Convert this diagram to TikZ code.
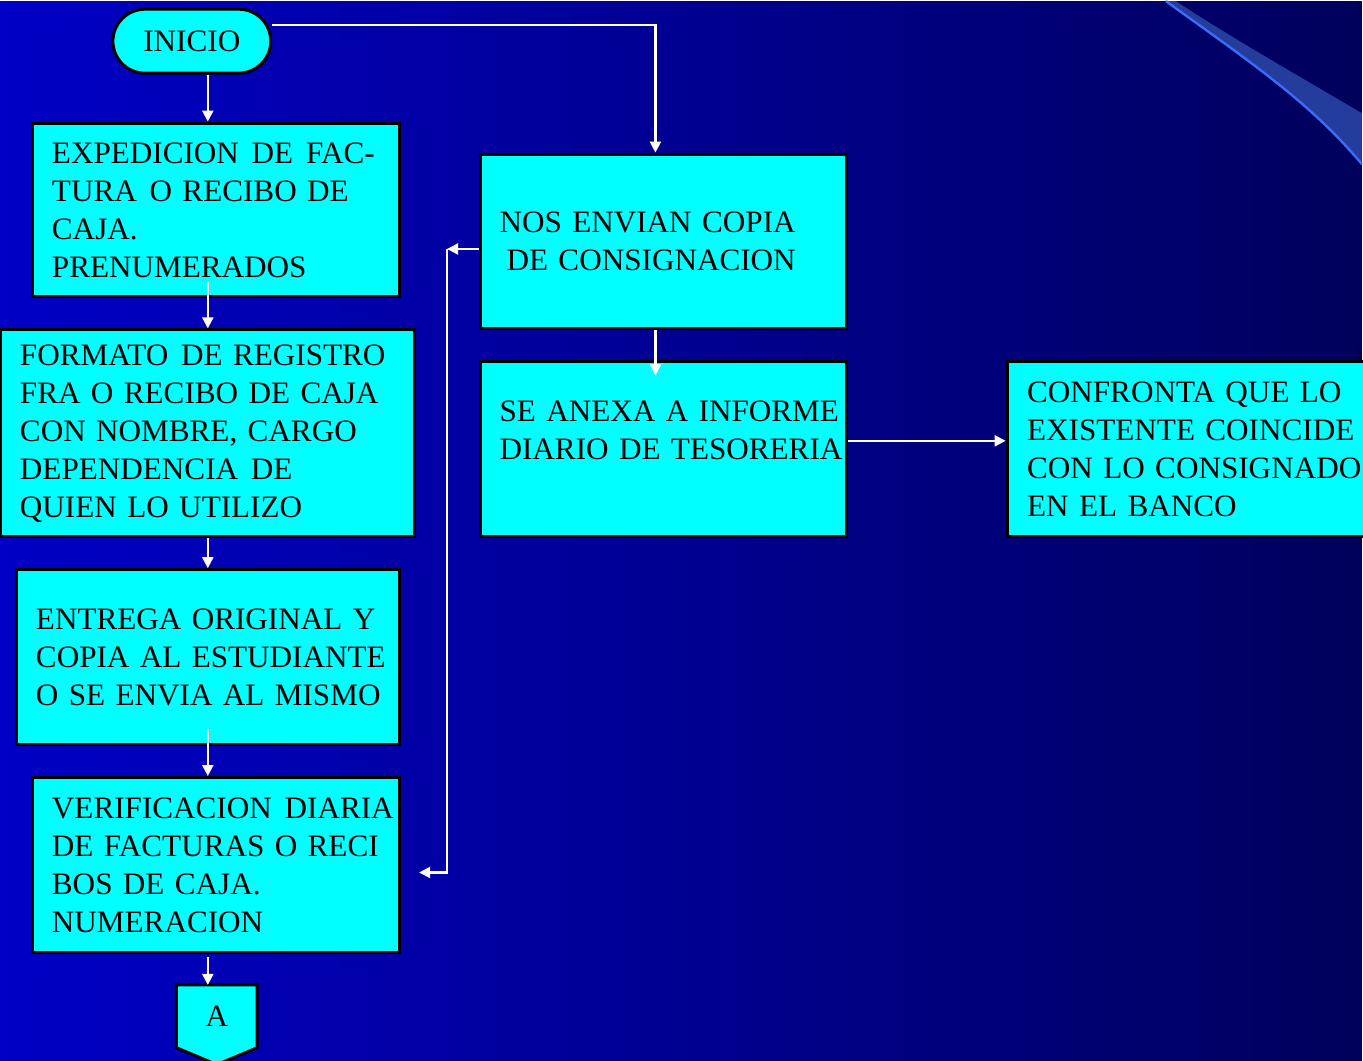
\documentclass[tikz,border=0pt]{standalone}
\usepackage{fontspec}
\setmainfont{Liberation Serif}
\usetikzlibrary{calc,arrows.meta}

\definecolor{bgleft}{RGB}{0,0,198}
\definecolor{bgright}{RGB}{0,0,92}
\definecolor{boxcyan}{RGB}{0,255,255}
\definecolor{swfill}{RGB}{36,60,156}
\definecolor{swline}{RGB}{58,108,250}

\pgfdeclarelayer{bg}
\pgfdeclarelayer{mid}
\pgfsetlayers{bg,mid,main}

\newcommand{\boxfont}{\fontsize{15.6}{19}\selectfont}
% slightly wider gap between two words
\newcommand{\wsp}{\ \hspace{1.2pt}}

\tikzset{
  flowbox/.style={draw=black, line width=1.5pt, fill=boxcyan, rectangle,
    inner xsep=9.5pt, inner ysep=0pt, align=left, text=black,
    font=\boxfont},
  terminal/.style={draw=black, line width=1.5pt, fill=boxcyan,
    rounded corners=16pt, minimum width=79pt, minimum height=32pt,
    inner sep=0pt, font=\boxfont},
  arr/.style={draw=white, line width=1.1pt,
    -{Triangle[length=5.5pt,width=5.5pt]}},
}
% one line of box text, never broken
\newcommand{\boxline}[1]{\mbox{#1}}

\begin{document}
\begin{tikzpicture}[x=0.5pt,y=-0.5pt]
  % background
  \begin{pgfonlayer}{bg}
    \shade[left color=bgleft, right color=bgright] (0,0) rectangle (1363,1060);
    % decorative swoosh in the upper right corner
    \fill[swfill] (1167,0) .. controls (1250,60) and (1310,100) .. (1363,163)
      -- (1363,112) .. controls (1300,75) and (1230,35) .. (1177,0) -- cycle;
    \draw[swline, line width=1.2pt] (1167,0) .. controls (1250,60) and (1310,100) .. (1363,163);
  \end{pgfonlayer}
  \useasboundingbox (0,0) rectangle (1363,1060);

  % axis of the left column of arrows
  \coordinate (spine) at (208,0);

  % nodes
  \node[terminal] (ini) at (192,40) {INICIO};

  \node[flowbox, minimum width=183.5pt, minimum height=87pt, text width=164.5pt]
    (b1) at (216.5,209)
    {\boxline{EXPEDICION\wsp DE\wsp FAC-}\\\boxline{TURA\wsp O RECIBO DE}\\CAJA.\\PRENUMERADOS};

  \node[flowbox, minimum width=207pt, minimum height=103.5pt, text width=188pt]
    (b2) at (208,432.5)
    {\boxline{FORMATO\wsp DE REGISTRO}\\\boxline{FRA O RECIBO DE CAJA}\\\boxline{CON NOMBRE, CARGO}\\\boxline{DEPENDENCIA\wsp DE}\\\boxline{QUIEN LO UTILIZO}};

  \node[flowbox, minimum width=191.5pt, minimum height=87.5pt, text width=172.5pt]
    (b3) at (208.5,656.5)
    {\boxline{ENTREGA ORIGINAL Y}\\\boxline{COPIA AL ESTUDIANTE}\\\boxline{O SE ENVIA AL MISMO}};

  \node[flowbox, minimum width=183.5pt, minimum height=87.5pt, text width=164.5pt]
    (b4) at (216.5,864.5)
    {\boxline{VERIFICACION\wsp DIARIA}\\\boxline{DE FACTURAS O RECI}\\\boxline{BOS DE CAJA.}\\NUMERACION};

  \node[flowbox, minimum width=183pt, minimum height=87.5pt, text width=164pt]
    (b5) at (664,240.5)
    {\boxline{NOS ENVIAN COPIA}\\\boxline{\hspace*{3.5pt}DE CONSIGNACION}};

  \node[flowbox, minimum width=183pt, minimum height=87.5pt, text width=164pt]
    (b6) at (664,448.5)
    {\boxline{SE ANEXA A INFORME}\\\boxline{DIARIO DE TESORERIA}\\\mbox{}};

  \node[flowbox, inner xsep=10pt, minimum width=186pt, minimum height=87.5pt, text width=166pt]
    (b7) at (1194,448.5)
    {\boxline{CONFRONTA QUE LO}\\\boxline{EXISTENTE COINCIDE}\\\boxline{CON LO CONSIGNADO}\\\boxline{EN EL BANCO}};

  % off-page connector
  \node[minimum width=40pt, minimum height=31pt, inner sep=0pt,
        font=\boxfont] (a) at (217,1016) {A};
  \begin{pgfonlayer}{mid}
    \draw[line width=1.5pt, fill=boxcyan]
      (a.north west) -- (a.north east) -- (a.south east)
      -- ($(a.south)+(0,17)$) -- (a.south west) -- cycle;
  \end{pgfonlayer}

  % connectors
  \draw[arr] (ini.south -| spine) -- (b1.north -| spine);
  \draw[arr] ([yshift=8pt]ini.east) -| ([xshift=-4pt]b5.north);
  \draw[arr] ([yshift=8pt]b1.south -| spine) -- (b2.north -| spine);
  \draw[arr] (b2.south -| spine) -- (b3.north -| spine);
  \draw[arr] ([yshift=8.5pt]b3.south -| spine) -- (b4.north -| spine);
  \draw[arr] ([yshift=-1.5pt]b4.south -| spine) -- (a.north -| spine);
  \draw[arr] ([xshift=-4pt]b5.south) -- ([xshift=-4pt,yshift=-7.5pt]b6.north);
  \draw[arr] ([yshift=-3.75pt]b5.west) -- ++(-16pt,0) coordinate (bend);
  \draw[arr] (bend) |- ([xshift=9pt,yshift=-3.75pt]b4.east);
  \draw[arr] ([yshift=4.25pt]b6.east) -- ([yshift=4.25pt]b7.west);
\end{tikzpicture}
\end{document}
